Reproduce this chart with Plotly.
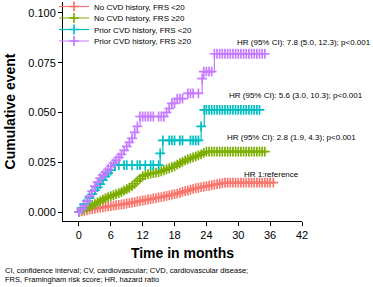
import plotly.graph_objects as go

# ---- data ----
series_names = ["No CVD history, FRS <20", "No CVD history, FRS \u226520",
                "Prior CVD history, FRS <20", "Prior CVD history, FRS \u226520"]
series_colors = ["#F8766D", "#7CAE00", "#00BFC4", "#C77CFF"]

red_time = [0, 0.5, 1, 1.5, 2, 2.5, 3, 3.5, 4, 4.5, 5, 5.5, 6, 6.5, 7, 7.5, 8, 8.5, 9, 9.5,
            10, 10.5, 11, 11.5, 12, 12.5, 13, 13.5, 14, 14.5, 15, 15.5, 16, 16.5, 17, 17.5,
            18, 18.5, 19, 19.5, 20, 20.5, 21, 21.5, 22, 22.5, 23, 23.5, 24, 24.5, 25, 25.5,
            26, 26.5, 27, 27.5, 28, 28.5, 29, 29.5, 30, 30.5, 31, 31.5, 32, 32.5, 33, 33.5,
            34, 34.5, 35, 35.5, 36, 36.6]
red_cum = [0, 0.0003, 0.0006, 0.0009, 0.0012, 0.0015, 0.0017, 0.0020, 0.0022, 0.0024,
           0.0026, 0.0028, 0.0030, 0.0032, 0.0034, 0.0036, 0.0038, 0.0040, 0.0043, 0.0045,
           0.0048, 0.0050, 0.0053, 0.0055, 0.0058, 0.0060, 0.0063, 0.0065, 0.0068, 0.0070,
           0.0073, 0.0075, 0.0078, 0.0081, 0.0084, 0.0087, 0.0090, 0.0093, 0.0097, 0.0101,
           0.0105, 0.0108, 0.0112, 0.0116, 0.0120, 0.0122, 0.0125, 0.0127, 0.0130, 0.0132,
           0.0135, 0.0137, 0.0140, 0.0142, 0.0145, 0.0147, 0.0148, 0.0148, 0.0148, 0.0148,
           0.0148, 0.0148, 0.0148, 0.0148, 0.0148, 0.0148, 0.0148, 0.0148, 0.0148, 0.0148,
           0.0148, 0.0148, 0.0148, 0.0148]

green_time = [0, 0.5, 1, 1.5, 2, 2.5, 3, 3.5, 4, 4.5, 5, 5.5, 6, 6.5, 7, 7.5, 8, 8.5, 9, 9.5,
              10, 10.5, 11, 11.5, 12, 12.5, 13, 13.5, 14, 14.5, 15, 15.5, 16, 16.5, 17, 17.5,
              18, 18.5, 19, 19.5, 20, 20.5, 21, 21.5, 22, 22.5, 23, 23.5, 24, 24.5, 25, 25.5,
              26, 26.5, 27, 27.5, 28, 28.5, 29, 29.5, 30, 30.5, 31, 31.5, 32, 32.5, 33, 33.5,
              34, 34.5, 35]
green_cum = [0, 0.0008, 0.0015, 0.0022, 0.0028, 0.0034, 0.0040, 0.0048, 0.0055, 0.0062,
             0.0070, 0.0075, 0.0080, 0.0085, 0.0090, 0.0095, 0.0100, 0.0108, 0.0115, 0.0122,
             0.0130, 0.0142, 0.0155, 0.0168, 0.0180, 0.0185, 0.0190, 0.0193, 0.0195, 0.0198,
             0.0200, 0.0205, 0.0210, 0.0215, 0.0220, 0.0225, 0.0230, 0.0238, 0.0245, 0.0252,
             0.0260, 0.0265, 0.0270, 0.0275, 0.0280, 0.0285, 0.0290, 0.0297, 0.0303, 0.0303,
             0.0303, 0.0303, 0.0303, 0.0303, 0.0303, 0.0303, 0.0303, 0.0303, 0.0303, 0.0303,
             0.0303, 0.0303, 0.0303, 0.0303, 0.0303, 0.0303, 0.0303, 0.0303, 0.0303, 0.0303,
             0.0303]

cyan_time = [0, 0.5, 1, 1.5, 2, 2.5, 3, 3.5, 4, 4.5, 5, 5.5, 6, 6.8, 7.5, 8.5, 9, 10,
             11, 11.5, 12.5, 13.5, 14, 15, 15.3, 15.8, 17, 17.5, 18, 19, 19.5, 21, 21.5,
             22, 22.5, 23, 23.6, 24, 24.5, 25, 25.5, 26, 26.5, 27, 27.5, 28, 28.5, 29,
             29.5, 30, 30.5, 31, 31.5, 32, 32.5, 33, 33.5, 34]
cyan_cum = [0, 0.0020, 0.0040, 0.0055, 0.0070, 0.0090, 0.0110, 0.0125, 0.0140, 0.0160,
            0.0180, 0.0195, 0.0210, 0.0236, 0.0236, 0.0236, 0.0236, 0.0236, 0.0236, 0.0236,
            0.0236, 0.0236, 0.0236, 0.0236, 0.0295, 0.0360, 0.0360, 0.0360, 0.0360, 0.0360,
            0.0360, 0.0360, 0.0360, 0.0360, 0.0360, 0.0430, 0.0513, 0.0513, 0.0513, 0.0513,
            0.0513, 0.0513, 0.0513, 0.0513, 0.0513, 0.0513, 0.0513, 0.0513, 0.0513, 0.0513,
            0.0513, 0.0513, 0.0513, 0.0513, 0.0513, 0.0513, 0.0513, 0.0513]

purple_time = [0, 0.5, 1, 1.5, 2, 2.5, 3, 3.5, 4, 4.5, 5, 5.5, 6, 6.5, 7, 7.5, 8, 8.5,
               9, 9.5, 10, 10.5, 11, 11.5, 12, 12.5, 13, 13.5, 14, 15, 15.5, 16, 16.5,
               17, 17.5, 18, 18.5, 19, 19.5, 20.5, 21, 21.5, 22.5, 23.2, 23.5, 24, 24.5,
               25, 25.5, 26, 26.5, 27, 27.5, 28, 28.5, 29, 29.5, 30, 30.5, 31, 31.5, 32,
               32.5, 33, 33.5, 34, 34.5, 35]
purple_cum = [0, 0.0015, 0.0030, 0.0055, 0.0080, 0.0105, 0.0130, 0.0150, 0.0170, 0.0185,
              0.0200, 0.0215, 0.0230, 0.0245, 0.0260, 0.0275, 0.0290, 0.0310, 0.0330, 0.0350,
              0.0370, 0.0400, 0.0430, 0.0480, 0.0480, 0.0480, 0.0480, 0.0480, 0.0480, 0.0480,
              0.0480, 0.0480, 0.0500, 0.0520, 0.0546, 0.0546, 0.0570, 0.0570, 0.0570, 0.0596,
              0.0596, 0.0596, 0.0596, 0.0670, 0.0705, 0.0705, 0.0705, 0.0705, 0.0795, 0.0795,
              0.0795, 0.0795, 0.0795, 0.0795, 0.0795, 0.0795, 0.0795, 0.0795, 0.0795, 0.0795,
              0.0795, 0.0795, 0.0795, 0.0795, 0.0795, 0.0795, 0.0795, 0.0795]

hr_labels = ["HR 1:reference",
             "HR (95% CI): 2.8 (1.9, 4.3); p<0.001",
             "HR (95% CI): 5.6 (3.0, 10.3); p<0.001",
             "HR (95% CI): 7.8 (5.0, 12.3); p<0.001"]
hr_label_x = [30.7, 27.5, 27.9, 29.4]
hr_label_y = [0.0191, 0.0372, 0.0583, 0.0854]

x_ticks = [0, 6, 12, 18, 24, 30, 36, 42]
y_ticks = [0.0, 0.025, 0.05, 0.075, 0.1]

footnote_lines = ["CI, confidence interval; CV, cardiovascular; CVD, cardiovascular disease;",
                  "FRS, Framingham risk score; HR, hazard ratio"]

# ---- figure ----
FONT = "Liberation Sans, Arial, sans-serif"
W, H = 373, 287
ML, MR, MT, MB = 63, 71, 2, 66
PH = H - MT - MB
PW = W - ML - MR

fig = go.Figure()
all_t = [red_time, green_time, cyan_time, purple_time]
all_y = [red_cum, green_cum, cyan_cum, purple_cum]
legend_ids = ["legend", "legend2", "legend3", "legend4"]
legend_px_y = [6.5, 18, 29.5, 41]   # pixel rows of legend entries
for name, col, t, y, lg in zip(series_names, series_colors, all_t, all_y, legend_ids):
    fig.add_trace(go.Scatter(
        x=t, y=y, name=name, mode="lines+markers", legend=lg,
        line=dict(color=col, width=1.2, shape="hv"),
        marker=dict(symbol="cross-thin", size=7, color=col,
                    line=dict(color=col, width=1.7)),
        cliponaxis=False,
    ))

for txt, ax_, ay_ in zip(hr_labels, hr_label_x, hr_label_y):
    fig.add_annotation(x=ax_, y=ay_, xref="x", yref="y", text=txt, showarrow=False,
                       xanchor="left", yanchor="middle",
                       font=dict(family=FONT, size=8, color="black"))

foot_px_y = [270.7, 279.5]
for line, py in zip(footnote_lines, foot_px_y):
    fig.add_annotation(x=(3 - ML) / PW, y=(H - MB - py) / PH, xref="paper", yref="paper",
                       text=line, showarrow=False, xanchor="left", yanchor="middle",
                       font=dict(family=FONT, size=7.5, color="black"))

axis_common = dict(showgrid=False, zeroline=False, showline=True, linecolor="black",
                   linewidth=1, ticks="outside", ticklen=4, tickwidth=1, automargin=False,
                   tickcolor="black", tickfont=dict(family=FONT, size=11, color="black"))

layout_legends = {}
for lg, py in zip(legend_ids, legend_px_y):
    layout_legends[lg] = dict(x=(54 - ML) / PW, y=(H - MB - py) / PH,
                              xanchor="left", yanchor="middle",
                              font=dict(family=FONT, size=8, color="black"),
                              bgcolor="rgba(0,0,0,0)", itemwidth=30)

fig.update_layout(
    width=W, height=H,
    margin=dict(l=ML, r=MR, t=MT, b=MB, autoexpand=False),
    paper_bgcolor="white", plot_bgcolor="white",
    font=dict(family=FONT, color="black"),
    showlegend=True,
    xaxis=dict(range=[-3, 42], tickvals=x_ticks,
               title=dict(text="<b>Time in months</b>", standoff=7,
                          font=dict(family=FONT, size=14, color="black")),
               **axis_common),
    yaxis=dict(range=[-0.0045, 0.1055], tickvals=y_ticks, tickformat=".3f",
               title=dict(text="<b>Cumulative event</b>", standoff=9,
                          font=dict(family=FONT, size=14, color="black")),
               **axis_common),
    **layout_legends,
)

fig.write_html("out.html", config={"displayModeBar": False},
               post_script="document.body.style.margin='0px';")
